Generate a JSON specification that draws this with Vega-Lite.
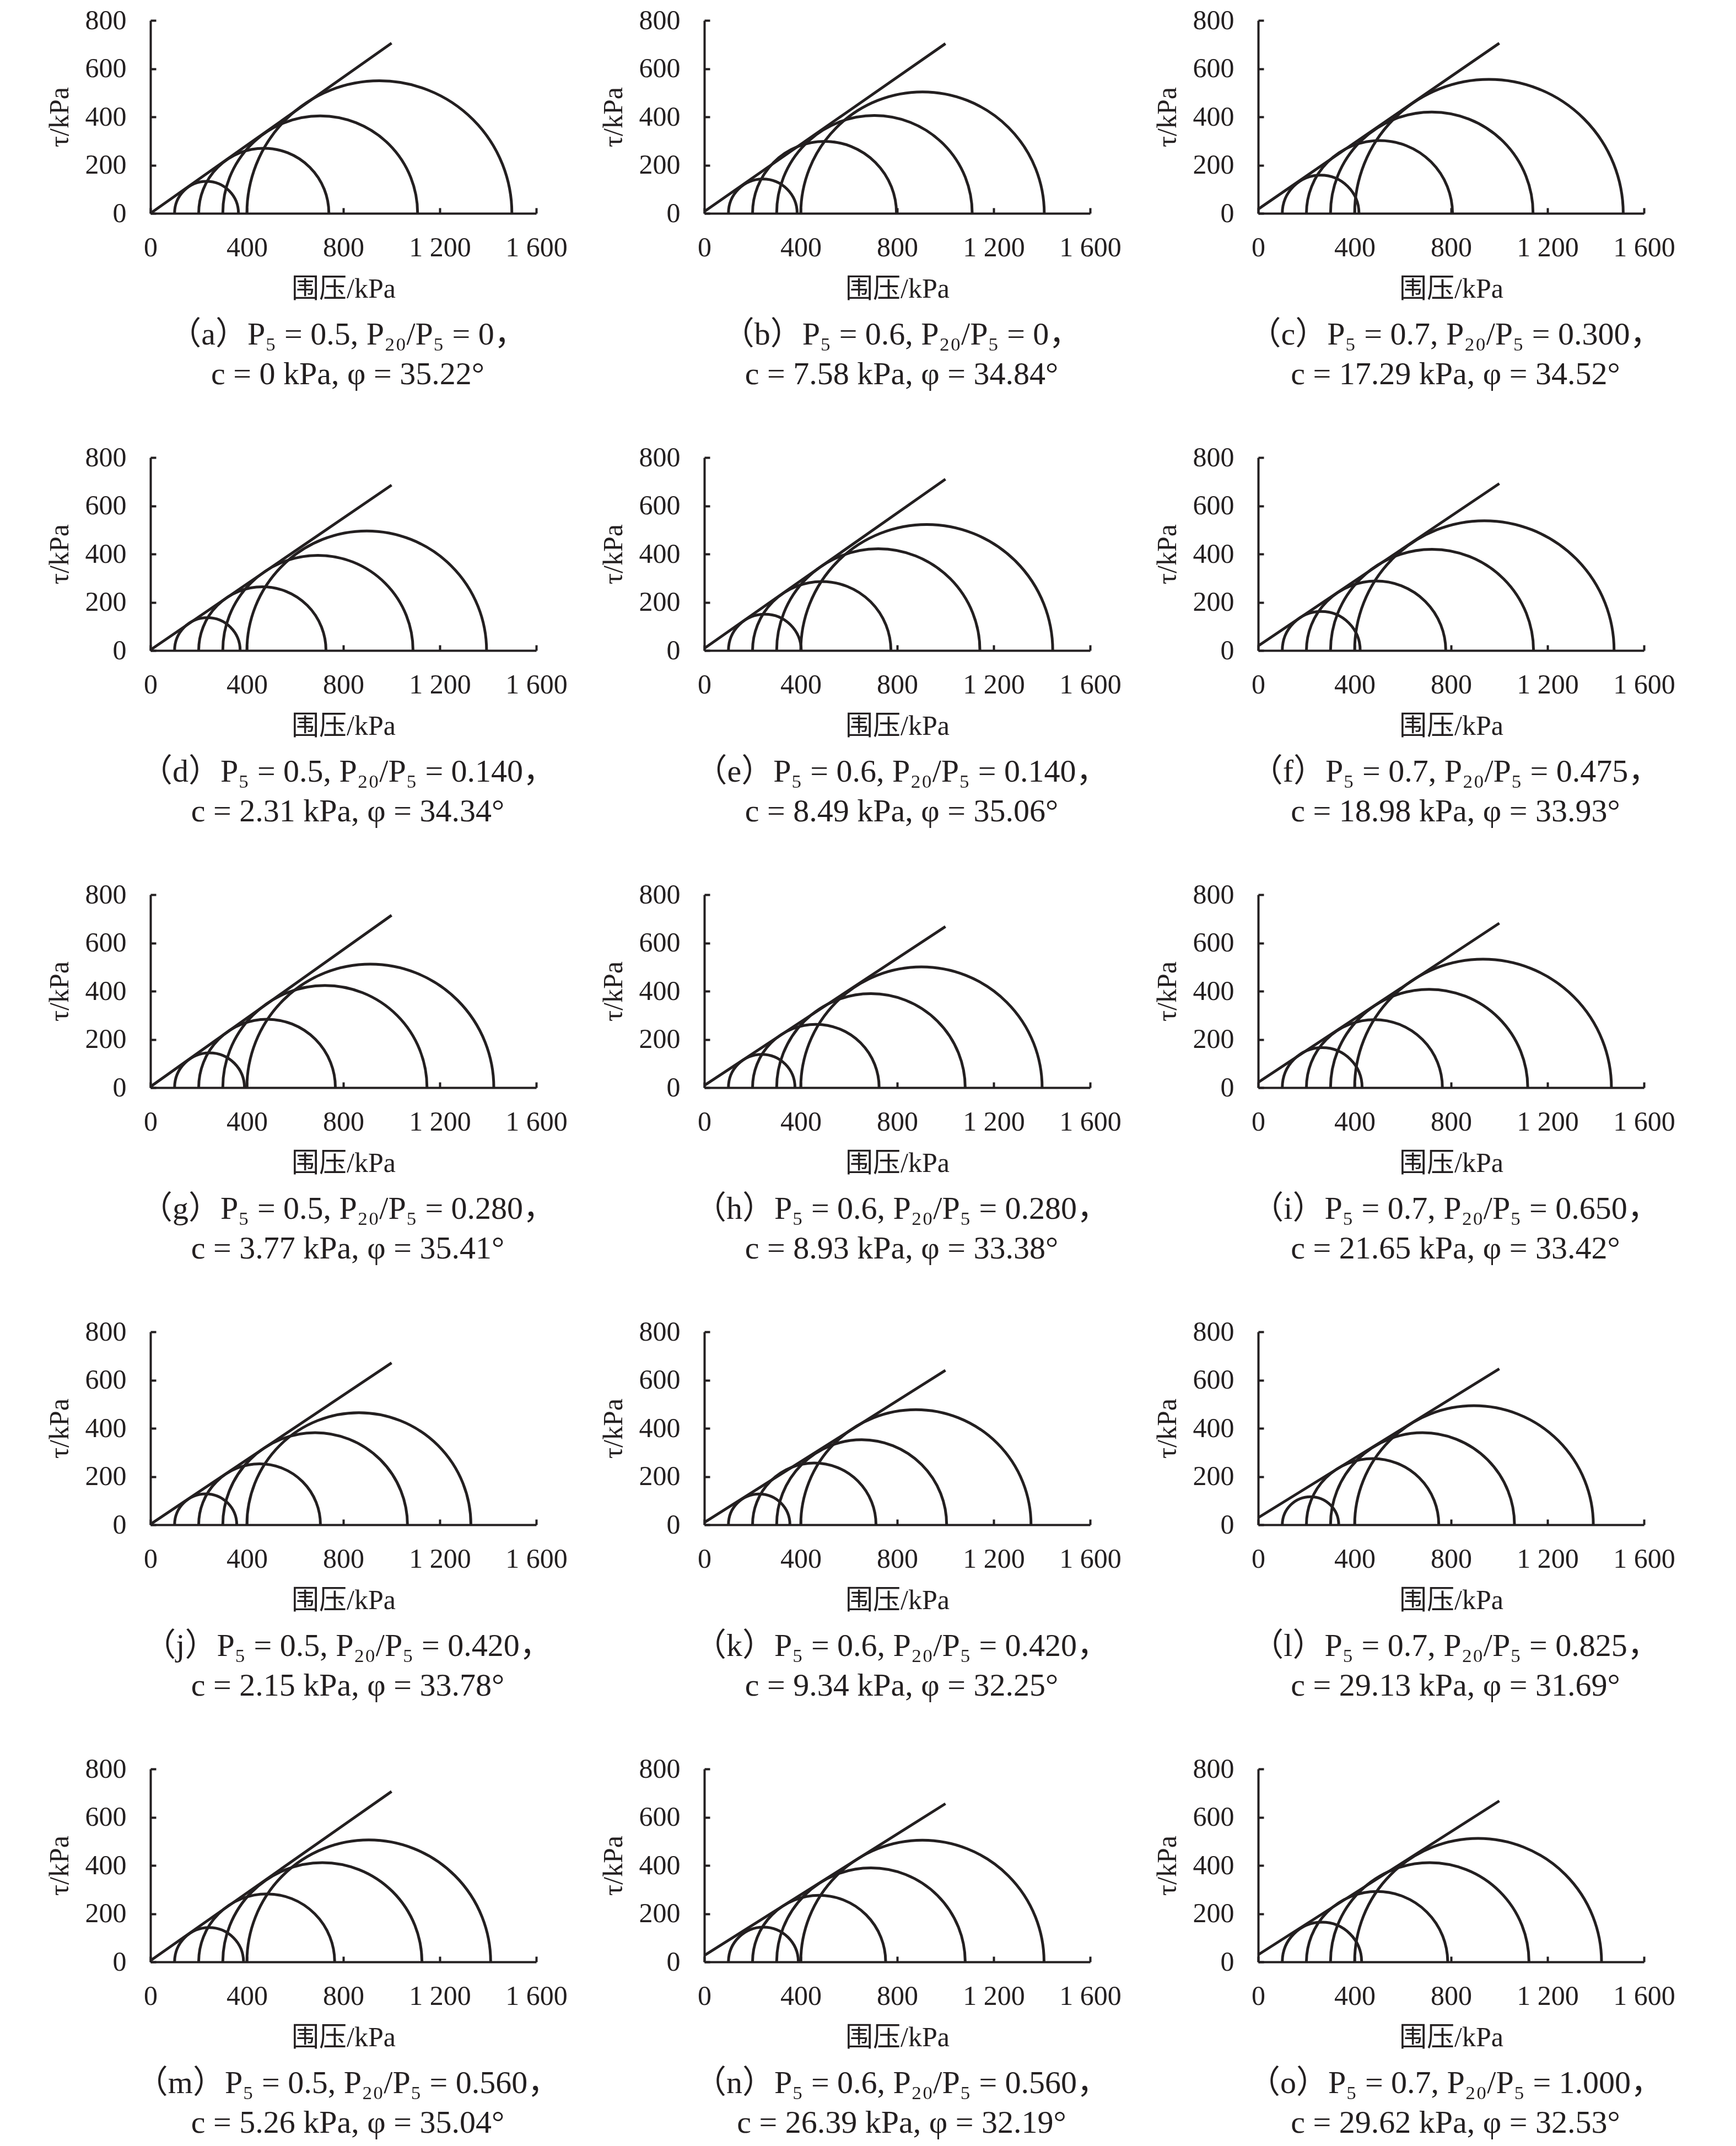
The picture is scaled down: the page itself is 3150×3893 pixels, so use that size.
{
"$schema": "https://vega.github.io/schema/vega-lite/v6.json",
"padding": {"left": 83, "top": 12, "right": 5, "bottom": 5},
"background": "white",
"datasets": {
"circles": [
{"panel":"a","center":232.5,"r":132.5},{"panel":"a","center":470,"r":270},{"panel":"a","center":704,"r":404},{"panel":"a","center":949.5,"r":549.5},
{"panel":"b","center":242.5,"r":142.5},{"panel":"b","center":498.5,"r":298.5},{"panel":"b","center":705.5,"r":405.5},{"panel":"b","center":905,"r":505},
{"panel":"c","center":259,"r":159},{"panel":"c","center":503,"r":303},{"panel":"c","center":720,"r":420},{"panel":"c","center":957,"r":557},
{"panel":"d","center":236,"r":136},{"panel":"d","center":464,"r":264},{"panel":"d","center":694.5,"r":394.5},{"panel":"d","center":897,"r":497},
{"panel":"e","center":251,"r":151},{"panel":"e","center":487,"r":287},{"panel":"e","center":721.5,"r":421.5},{"panel":"e","center":922.5,"r":522.5},
{"panel":"f","center":261.5,"r":161.5},{"panel":"f","center":489,"r":289},{"panel":"f","center":721,"r":421},{"panel":"f","center":938,"r":538},
{"panel":"g","center":245,"r":145},{"panel":"g","center":483.5,"r":283.5},{"panel":"g","center":723.5,"r":423.5},{"panel":"g","center":912,"r":512},
{"panel":"h","center":238,"r":138},{"panel":"h","center":462.5,"r":262.5},{"panel":"h","center":691,"r":391},{"panel":"h","center":900.5,"r":500.5},
{"panel":"i","center":265.5,"r":165.5},{"panel":"i","center":482,"r":282},{"panel":"i","center":709,"r":409},{"panel":"i","center":932.5,"r":532.5},
{"panel":"j","center":229,"r":129},{"panel":"j","center":452.5,"r":252.5},{"panel":"j","center":683,"r":383},{"panel":"j","center":864.5,"r":464.5},
{"panel":"k","center":227.5,"r":127.5},{"panel":"k","center":456,"r":256},{"panel":"k","center":652.5,"r":352.5},{"panel":"k","center":877.5,"r":477.5},
{"panel":"l","center":217,"r":117},{"panel":"l","center":474.5,"r":274.5},{"panel":"l","center":681.5,"r":381.5},{"panel":"l","center":895,"r":495},
{"panel":"m","center":243,"r":143},{"panel":"m","center":482,"r":282},{"panel":"m","center":713,"r":413},{"panel":"m","center":905.5,"r":505.5},
{"panel":"n","center":245,"r":145},{"panel":"n","center":476,"r":276},{"panel":"n","center":691,"r":391},{"panel":"n","center":904.5,"r":504.5},
{"panel":"o","center":264.5,"r":164.5},{"panel":"o","center":493,"r":293},{"panel":"o","center":711.5,"r":411.5},{"panel":"o","center":912,"r":512}
],
"lines": [
{"panel":"a","s":0,"t":0},{"panel":"a","s":1000,"t":705.9},
{"panel":"b","s":0,"t":7.58},{"panel":"b","s":1000,"t":703.7},
{"panel":"c","s":0,"t":17.29},{"panel":"c","s":1000,"t":705.3},
{"panel":"d","s":0,"t":2.31},{"panel":"d","s":1000,"t":685.7},
{"panel":"e","s":0,"t":8.49},{"panel":"e","s":1000,"t":710.3},
{"panel":"f","s":0,"t":18.98},{"panel":"f","s":1000,"t":691.9},
{"panel":"g","s":0,"t":3.77},{"panel":"g","s":1000,"t":714.5},
{"panel":"h","s":0,"t":8.93},{"panel":"h","s":1000,"t":667.9},
{"panel":"i","s":0,"t":21.65},{"panel":"i","s":1000,"t":681.7},
{"panel":"j","s":0,"t":2.15},{"panel":"j","s":1000,"t":671.2},
{"panel":"k","s":0,"t":9.34},{"panel":"k","s":1000,"t":640.3},
{"panel":"l","s":0,"t":29.13},{"panel":"l","s":1000,"t":646.5},
{"panel":"m","s":0,"t":5.26},{"panel":"m","s":1000,"t":706.6},
{"panel":"n","s":0,"t":26.39},{"panel":"n","s":1000,"t":656.0},
{"panel":"o","s":0,"t":29.62},{"panel":"o","s":1000,"t":667.4}
]
},
"columns": 3,
"spacing": {"row": 443, "column": 305},
"bounds": "flush",
"concat": [
{"width":700,"height":350,"title":{"text":["（a）P₅ = 0.5, P₂₀/P₅ = 0，","c = 0 kPa, φ = 35.22°"]},"layer":[
{"data":{"name":"circles"},"transform":[{"filter":"datum.panel==='a'"}],"mark":{"type":"arc","theta":-1.5707963,"theta2":1.5707963,"filled":false,"stroke":"#231f20","strokeWidth":5},"encoding":{"x":{"field":"center","type":"quantitative","stack":null,"scale":{"domain":[0,1600],"nice":false},"title":"围压/kPa","axis":{"values":[0,400,800,1200,1600]}},"y":{"datum":0,"type":"quantitative","scale":{"domain":[0,800],"nice":false},"title":"τ/kPa","axis":{"values":[0,200,400,600,800]}},"radius":{"field":"r","type":"quantitative","stack":null,"scale":{"type":"linear","domain":[0,1600],"range":[0,700]}},"radius2":{"field":"r"}}},
{"data":{"name":"lines"},"transform":[{"filter":"datum.panel==='a'"}],"mark":{"type":"line","stroke":"#231f20","strokeWidth":5},"encoding":{"x":{"field":"s","type":"quantitative","scale":{"domain":[0,1600],"nice":false},"title":"围压/kPa","axis":{"values":[0,400,800,1200,1600]}},"y":{"field":"t","type":"quantitative","scale":{"domain":[0,800],"nice":false},"title":"τ/kPa","axis":{"values":[0,200,400,600,800]}}}}]},
{"width":700,"height":350,"title":{"text":["（b）P₅ = 0.6, P₂₀/P₅ = 0，","c = 7.58 kPa, φ = 34.84°"]},"layer":[
{"data":{"name":"circles"},"transform":[{"filter":"datum.panel==='b'"}],"mark":{"type":"arc","theta":-1.5707963,"theta2":1.5707963,"filled":false,"stroke":"#231f20","strokeWidth":5},"encoding":{"x":{"field":"center","type":"quantitative","stack":null,"scale":{"domain":[0,1600],"nice":false},"title":"围压/kPa","axis":{"values":[0,400,800,1200,1600]}},"y":{"datum":0,"type":"quantitative","scale":{"domain":[0,800],"nice":false},"title":"τ/kPa","axis":{"values":[0,200,400,600,800]}},"radius":{"field":"r","type":"quantitative","stack":null,"scale":{"type":"linear","domain":[0,1600],"range":[0,700]}},"radius2":{"field":"r"}}},
{"data":{"name":"lines"},"transform":[{"filter":"datum.panel==='b'"}],"mark":{"type":"line","stroke":"#231f20","strokeWidth":5},"encoding":{"x":{"field":"s","type":"quantitative","scale":{"domain":[0,1600],"nice":false},"title":"围压/kPa","axis":{"values":[0,400,800,1200,1600]}},"y":{"field":"t","type":"quantitative","scale":{"domain":[0,800],"nice":false},"title":"τ/kPa","axis":{"values":[0,200,400,600,800]}}}}]},
{"width":700,"height":350,"title":{"text":["（c）P₅ = 0.7, P₂₀/P₅ = 0.300，","c = 17.29 kPa, φ = 34.52°"]},"layer":[
{"data":{"name":"circles"},"transform":[{"filter":"datum.panel==='c'"}],"mark":{"type":"arc","theta":-1.5707963,"theta2":1.5707963,"filled":false,"stroke":"#231f20","strokeWidth":5},"encoding":{"x":{"field":"center","type":"quantitative","stack":null,"scale":{"domain":[0,1600],"nice":false},"title":"围压/kPa","axis":{"values":[0,400,800,1200,1600]}},"y":{"datum":0,"type":"quantitative","scale":{"domain":[0,800],"nice":false},"title":"τ/kPa","axis":{"values":[0,200,400,600,800]}},"radius":{"field":"r","type":"quantitative","stack":null,"scale":{"type":"linear","domain":[0,1600],"range":[0,700]}},"radius2":{"field":"r"}}},
{"data":{"name":"lines"},"transform":[{"filter":"datum.panel==='c'"}],"mark":{"type":"line","stroke":"#231f20","strokeWidth":5},"encoding":{"x":{"field":"s","type":"quantitative","scale":{"domain":[0,1600],"nice":false},"title":"围压/kPa","axis":{"values":[0,400,800,1200,1600]}},"y":{"field":"t","type":"quantitative","scale":{"domain":[0,800],"nice":false},"title":"τ/kPa","axis":{"values":[0,200,400,600,800]}}}}]},
{"width":700,"height":350,"title":{"text":["（d）P₅ = 0.5, P₂₀/P₅ = 0.140，","c = 2.31 kPa, φ = 34.34°"]},"layer":[
{"data":{"name":"circles"},"transform":[{"filter":"datum.panel==='d'"}],"mark":{"type":"arc","theta":-1.5707963,"theta2":1.5707963,"filled":false,"stroke":"#231f20","strokeWidth":5},"encoding":{"x":{"field":"center","type":"quantitative","stack":null,"scale":{"domain":[0,1600],"nice":false},"title":"围压/kPa","axis":{"values":[0,400,800,1200,1600]}},"y":{"datum":0,"type":"quantitative","scale":{"domain":[0,800],"nice":false},"title":"τ/kPa","axis":{"values":[0,200,400,600,800]}},"radius":{"field":"r","type":"quantitative","stack":null,"scale":{"type":"linear","domain":[0,1600],"range":[0,700]}},"radius2":{"field":"r"}}},
{"data":{"name":"lines"},"transform":[{"filter":"datum.panel==='d'"}],"mark":{"type":"line","stroke":"#231f20","strokeWidth":5},"encoding":{"x":{"field":"s","type":"quantitative","scale":{"domain":[0,1600],"nice":false},"title":"围压/kPa","axis":{"values":[0,400,800,1200,1600]}},"y":{"field":"t","type":"quantitative","scale":{"domain":[0,800],"nice":false},"title":"τ/kPa","axis":{"values":[0,200,400,600,800]}}}}]},
{"width":700,"height":350,"title":{"text":["（e）P₅ = 0.6, P₂₀/P₅ = 0.140，","c = 8.49 kPa, φ = 35.06°"]},"layer":[
{"data":{"name":"circles"},"transform":[{"filter":"datum.panel==='e'"}],"mark":{"type":"arc","theta":-1.5707963,"theta2":1.5707963,"filled":false,"stroke":"#231f20","strokeWidth":5},"encoding":{"x":{"field":"center","type":"quantitative","stack":null,"scale":{"domain":[0,1600],"nice":false},"title":"围压/kPa","axis":{"values":[0,400,800,1200,1600]}},"y":{"datum":0,"type":"quantitative","scale":{"domain":[0,800],"nice":false},"title":"τ/kPa","axis":{"values":[0,200,400,600,800]}},"radius":{"field":"r","type":"quantitative","stack":null,"scale":{"type":"linear","domain":[0,1600],"range":[0,700]}},"radius2":{"field":"r"}}},
{"data":{"name":"lines"},"transform":[{"filter":"datum.panel==='e'"}],"mark":{"type":"line","stroke":"#231f20","strokeWidth":5},"encoding":{"x":{"field":"s","type":"quantitative","scale":{"domain":[0,1600],"nice":false},"title":"围压/kPa","axis":{"values":[0,400,800,1200,1600]}},"y":{"field":"t","type":"quantitative","scale":{"domain":[0,800],"nice":false},"title":"τ/kPa","axis":{"values":[0,200,400,600,800]}}}}]},
{"width":700,"height":350,"title":{"text":["（f）P₅ = 0.7, P₂₀/P₅ = 0.475，","c = 18.98 kPa, φ = 33.93°"]},"layer":[
{"data":{"name":"circles"},"transform":[{"filter":"datum.panel==='f'"}],"mark":{"type":"arc","theta":-1.5707963,"theta2":1.5707963,"filled":false,"stroke":"#231f20","strokeWidth":5},"encoding":{"x":{"field":"center","type":"quantitative","stack":null,"scale":{"domain":[0,1600],"nice":false},"title":"围压/kPa","axis":{"values":[0,400,800,1200,1600]}},"y":{"datum":0,"type":"quantitative","scale":{"domain":[0,800],"nice":false},"title":"τ/kPa","axis":{"values":[0,200,400,600,800]}},"radius":{"field":"r","type":"quantitative","stack":null,"scale":{"type":"linear","domain":[0,1600],"range":[0,700]}},"radius2":{"field":"r"}}},
{"data":{"name":"lines"},"transform":[{"filter":"datum.panel==='f'"}],"mark":{"type":"line","stroke":"#231f20","strokeWidth":5},"encoding":{"x":{"field":"s","type":"quantitative","scale":{"domain":[0,1600],"nice":false},"title":"围压/kPa","axis":{"values":[0,400,800,1200,1600]}},"y":{"field":"t","type":"quantitative","scale":{"domain":[0,800],"nice":false},"title":"τ/kPa","axis":{"values":[0,200,400,600,800]}}}}]},
{"width":700,"height":350,"title":{"text":["（g）P₅ = 0.5, P₂₀/P₅ = 0.280，","c = 3.77 kPa, φ = 35.41°"]},"layer":[
{"data":{"name":"circles"},"transform":[{"filter":"datum.panel==='g'"}],"mark":{"type":"arc","theta":-1.5707963,"theta2":1.5707963,"filled":false,"stroke":"#231f20","strokeWidth":5},"encoding":{"x":{"field":"center","type":"quantitative","stack":null,"scale":{"domain":[0,1600],"nice":false},"title":"围压/kPa","axis":{"values":[0,400,800,1200,1600]}},"y":{"datum":0,"type":"quantitative","scale":{"domain":[0,800],"nice":false},"title":"τ/kPa","axis":{"values":[0,200,400,600,800]}},"radius":{"field":"r","type":"quantitative","stack":null,"scale":{"type":"linear","domain":[0,1600],"range":[0,700]}},"radius2":{"field":"r"}}},
{"data":{"name":"lines"},"transform":[{"filter":"datum.panel==='g'"}],"mark":{"type":"line","stroke":"#231f20","strokeWidth":5},"encoding":{"x":{"field":"s","type":"quantitative","scale":{"domain":[0,1600],"nice":false},"title":"围压/kPa","axis":{"values":[0,400,800,1200,1600]}},"y":{"field":"t","type":"quantitative","scale":{"domain":[0,800],"nice":false},"title":"τ/kPa","axis":{"values":[0,200,400,600,800]}}}}]},
{"width":700,"height":350,"title":{"text":["（h）P₅ = 0.6, P₂₀/P₅ = 0.280，","c = 8.93 kPa, φ = 33.38°"]},"layer":[
{"data":{"name":"circles"},"transform":[{"filter":"datum.panel==='h'"}],"mark":{"type":"arc","theta":-1.5707963,"theta2":1.5707963,"filled":false,"stroke":"#231f20","strokeWidth":5},"encoding":{"x":{"field":"center","type":"quantitative","stack":null,"scale":{"domain":[0,1600],"nice":false},"title":"围压/kPa","axis":{"values":[0,400,800,1200,1600]}},"y":{"datum":0,"type":"quantitative","scale":{"domain":[0,800],"nice":false},"title":"τ/kPa","axis":{"values":[0,200,400,600,800]}},"radius":{"field":"r","type":"quantitative","stack":null,"scale":{"type":"linear","domain":[0,1600],"range":[0,700]}},"radius2":{"field":"r"}}},
{"data":{"name":"lines"},"transform":[{"filter":"datum.panel==='h'"}],"mark":{"type":"line","stroke":"#231f20","strokeWidth":5},"encoding":{"x":{"field":"s","type":"quantitative","scale":{"domain":[0,1600],"nice":false},"title":"围压/kPa","axis":{"values":[0,400,800,1200,1600]}},"y":{"field":"t","type":"quantitative","scale":{"domain":[0,800],"nice":false},"title":"τ/kPa","axis":{"values":[0,200,400,600,800]}}}}]},
{"width":700,"height":350,"title":{"text":["（i）P₅ = 0.7, P₂₀/P₅ = 0.650，","c = 21.65 kPa, φ = 33.42°"]},"layer":[
{"data":{"name":"circles"},"transform":[{"filter":"datum.panel==='i'"}],"mark":{"type":"arc","theta":-1.5707963,"theta2":1.5707963,"filled":false,"stroke":"#231f20","strokeWidth":5},"encoding":{"x":{"field":"center","type":"quantitative","stack":null,"scale":{"domain":[0,1600],"nice":false},"title":"围压/kPa","axis":{"values":[0,400,800,1200,1600]}},"y":{"datum":0,"type":"quantitative","scale":{"domain":[0,800],"nice":false},"title":"τ/kPa","axis":{"values":[0,200,400,600,800]}},"radius":{"field":"r","type":"quantitative","stack":null,"scale":{"type":"linear","domain":[0,1600],"range":[0,700]}},"radius2":{"field":"r"}}},
{"data":{"name":"lines"},"transform":[{"filter":"datum.panel==='i'"}],"mark":{"type":"line","stroke":"#231f20","strokeWidth":5},"encoding":{"x":{"field":"s","type":"quantitative","scale":{"domain":[0,1600],"nice":false},"title":"围压/kPa","axis":{"values":[0,400,800,1200,1600]}},"y":{"field":"t","type":"quantitative","scale":{"domain":[0,800],"nice":false},"title":"τ/kPa","axis":{"values":[0,200,400,600,800]}}}}]},
{"width":700,"height":350,"title":{"text":["（j）P₅ = 0.5, P₂₀/P₅ = 0.420，","c = 2.15 kPa, φ = 33.78°"]},"layer":[
{"data":{"name":"circles"},"transform":[{"filter":"datum.panel==='j'"}],"mark":{"type":"arc","theta":-1.5707963,"theta2":1.5707963,"filled":false,"stroke":"#231f20","strokeWidth":5},"encoding":{"x":{"field":"center","type":"quantitative","stack":null,"scale":{"domain":[0,1600],"nice":false},"title":"围压/kPa","axis":{"values":[0,400,800,1200,1600]}},"y":{"datum":0,"type":"quantitative","scale":{"domain":[0,800],"nice":false},"title":"τ/kPa","axis":{"values":[0,200,400,600,800]}},"radius":{"field":"r","type":"quantitative","stack":null,"scale":{"type":"linear","domain":[0,1600],"range":[0,700]}},"radius2":{"field":"r"}}},
{"data":{"name":"lines"},"transform":[{"filter":"datum.panel==='j'"}],"mark":{"type":"line","stroke":"#231f20","strokeWidth":5},"encoding":{"x":{"field":"s","type":"quantitative","scale":{"domain":[0,1600],"nice":false},"title":"围压/kPa","axis":{"values":[0,400,800,1200,1600]}},"y":{"field":"t","type":"quantitative","scale":{"domain":[0,800],"nice":false},"title":"τ/kPa","axis":{"values":[0,200,400,600,800]}}}}]},
{"width":700,"height":350,"title":{"text":["（k）P₅ = 0.6, P₂₀/P₅ = 0.420，","c = 9.34 kPa, φ = 32.25°"]},"layer":[
{"data":{"name":"circles"},"transform":[{"filter":"datum.panel==='k'"}],"mark":{"type":"arc","theta":-1.5707963,"theta2":1.5707963,"filled":false,"stroke":"#231f20","strokeWidth":5},"encoding":{"x":{"field":"center","type":"quantitative","stack":null,"scale":{"domain":[0,1600],"nice":false},"title":"围压/kPa","axis":{"values":[0,400,800,1200,1600]}},"y":{"datum":0,"type":"quantitative","scale":{"domain":[0,800],"nice":false},"title":"τ/kPa","axis":{"values":[0,200,400,600,800]}},"radius":{"field":"r","type":"quantitative","stack":null,"scale":{"type":"linear","domain":[0,1600],"range":[0,700]}},"radius2":{"field":"r"}}},
{"data":{"name":"lines"},"transform":[{"filter":"datum.panel==='k'"}],"mark":{"type":"line","stroke":"#231f20","strokeWidth":5},"encoding":{"x":{"field":"s","type":"quantitative","scale":{"domain":[0,1600],"nice":false},"title":"围压/kPa","axis":{"values":[0,400,800,1200,1600]}},"y":{"field":"t","type":"quantitative","scale":{"domain":[0,800],"nice":false},"title":"τ/kPa","axis":{"values":[0,200,400,600,800]}}}}]},
{"width":700,"height":350,"title":{"text":["（l）P₅ = 0.7, P₂₀/P₅ = 0.825，","c = 29.13 kPa, φ = 31.69°"]},"layer":[
{"data":{"name":"circles"},"transform":[{"filter":"datum.panel==='l'"}],"mark":{"type":"arc","theta":-1.5707963,"theta2":1.5707963,"filled":false,"stroke":"#231f20","strokeWidth":5},"encoding":{"x":{"field":"center","type":"quantitative","stack":null,"scale":{"domain":[0,1600],"nice":false},"title":"围压/kPa","axis":{"values":[0,400,800,1200,1600]}},"y":{"datum":0,"type":"quantitative","scale":{"domain":[0,800],"nice":false},"title":"τ/kPa","axis":{"values":[0,200,400,600,800]}},"radius":{"field":"r","type":"quantitative","stack":null,"scale":{"type":"linear","domain":[0,1600],"range":[0,700]}},"radius2":{"field":"r"}}},
{"data":{"name":"lines"},"transform":[{"filter":"datum.panel==='l'"}],"mark":{"type":"line","stroke":"#231f20","strokeWidth":5},"encoding":{"x":{"field":"s","type":"quantitative","scale":{"domain":[0,1600],"nice":false},"title":"围压/kPa","axis":{"values":[0,400,800,1200,1600]}},"y":{"field":"t","type":"quantitative","scale":{"domain":[0,800],"nice":false},"title":"τ/kPa","axis":{"values":[0,200,400,600,800]}}}}]},
{"width":700,"height":350,"title":{"text":["（m）P₅ = 0.5, P₂₀/P₅ = 0.560，","c = 5.26 kPa, φ = 35.04°"]},"layer":[
{"data":{"name":"circles"},"transform":[{"filter":"datum.panel==='m'"}],"mark":{"type":"arc","theta":-1.5707963,"theta2":1.5707963,"filled":false,"stroke":"#231f20","strokeWidth":5},"encoding":{"x":{"field":"center","type":"quantitative","stack":null,"scale":{"domain":[0,1600],"nice":false},"title":"围压/kPa","axis":{"values":[0,400,800,1200,1600]}},"y":{"datum":0,"type":"quantitative","scale":{"domain":[0,800],"nice":false},"title":"τ/kPa","axis":{"values":[0,200,400,600,800]}},"radius":{"field":"r","type":"quantitative","stack":null,"scale":{"type":"linear","domain":[0,1600],"range":[0,700]}},"radius2":{"field":"r"}}},
{"data":{"name":"lines"},"transform":[{"filter":"datum.panel==='m'"}],"mark":{"type":"line","stroke":"#231f20","strokeWidth":5},"encoding":{"x":{"field":"s","type":"quantitative","scale":{"domain":[0,1600],"nice":false},"title":"围压/kPa","axis":{"values":[0,400,800,1200,1600]}},"y":{"field":"t","type":"quantitative","scale":{"domain":[0,800],"nice":false},"title":"τ/kPa","axis":{"values":[0,200,400,600,800]}}}}]},
{"width":700,"height":350,"title":{"text":["（n）P₅ = 0.6, P₂₀/P₅ = 0.560，","c = 26.39 kPa, φ = 32.19°"]},"layer":[
{"data":{"name":"circles"},"transform":[{"filter":"datum.panel==='n'"}],"mark":{"type":"arc","theta":-1.5707963,"theta2":1.5707963,"filled":false,"stroke":"#231f20","strokeWidth":5},"encoding":{"x":{"field":"center","type":"quantitative","stack":null,"scale":{"domain":[0,1600],"nice":false},"title":"围压/kPa","axis":{"values":[0,400,800,1200,1600]}},"y":{"datum":0,"type":"quantitative","scale":{"domain":[0,800],"nice":false},"title":"τ/kPa","axis":{"values":[0,200,400,600,800]}},"radius":{"field":"r","type":"quantitative","stack":null,"scale":{"type":"linear","domain":[0,1600],"range":[0,700]}},"radius2":{"field":"r"}}},
{"data":{"name":"lines"},"transform":[{"filter":"datum.panel==='n'"}],"mark":{"type":"line","stroke":"#231f20","strokeWidth":5},"encoding":{"x":{"field":"s","type":"quantitative","scale":{"domain":[0,1600],"nice":false},"title":"围压/kPa","axis":{"values":[0,400,800,1200,1600]}},"y":{"field":"t","type":"quantitative","scale":{"domain":[0,800],"nice":false},"title":"τ/kPa","axis":{"values":[0,200,400,600,800]}}}}]},
{"width":700,"height":350,"title":{"text":["（o）P₅ = 0.7, P₂₀/P₅ = 1.000，","c = 29.62 kPa, φ = 32.53°"]},"layer":[
{"data":{"name":"circles"},"transform":[{"filter":"datum.panel==='o'"}],"mark":{"type":"arc","theta":-1.5707963,"theta2":1.5707963,"filled":false,"stroke":"#231f20","strokeWidth":5},"encoding":{"x":{"field":"center","type":"quantitative","stack":null,"scale":{"domain":[0,1600],"nice":false},"title":"围压/kPa","axis":{"values":[0,400,800,1200,1600]}},"y":{"datum":0,"type":"quantitative","scale":{"domain":[0,800],"nice":false},"title":"τ/kPa","axis":{"values":[0,200,400,600,800]}},"radius":{"field":"r","type":"quantitative","stack":null,"scale":{"type":"linear","domain":[0,1600],"range":[0,700]}},"radius2":{"field":"r"}}},
{"data":{"name":"lines"},"transform":[{"filter":"datum.panel==='o'"}],"mark":{"type":"line","stroke":"#231f20","strokeWidth":5},"encoding":{"x":{"field":"s","type":"quantitative","scale":{"domain":[0,1600],"nice":false},"title":"围压/kPa","axis":{"values":[0,400,800,1200,1600]}},"y":{"field":"t","type":"quantitative","scale":{"domain":[0,800],"nice":false},"title":"τ/kPa","axis":{"values":[0,200,400,600,800]}}}}]}
],
"config": {
"view": {"stroke": null},
"font": "Liberation Serif",
"axis": {"grid": false, "domainColor": "#231f20", "domainWidth": 4, "tickColor": "#231f20", "tickWidth": 4, "tickSize": -10, "labelFont": "Liberation Serif", "labelFontSize": 50, "labelColor": "#231f20", "labelFlush": false, "labelOverlap": false, "titleFont": "Liberation Serif, Noto Sans CJK SC", "titleFontSize": 50, "titleFontWeight": "normal", "titleColor": "#231f20"},
"axisX": {"labelPadding": 72, "labelBaseline": "middle", "labelExpr": "datum.value >= 1000 ? replace(format(datum.value, ','), ',', ' ') : format(datum.value, 'd')", "titleX": 350, "titleY": 137, "titleBaseline": "middle", "titleAlign": "center"},
"axisY": {"labelPadding": 54, "titleX": -165, "titleY": 175, "titleAngle": -90, "titleBaseline": "middle", "titleAlign": "center"},
"title": {"font": "Liberation Serif, Noto Sans CJK SC", "fontSize": 58, "fontWeight": "normal", "color": "#231f20", "orient": "bottom", "anchor": "middle", "frame": "group", "offset": 30, "lineHeight": 72, "dx": 8}
}
}
